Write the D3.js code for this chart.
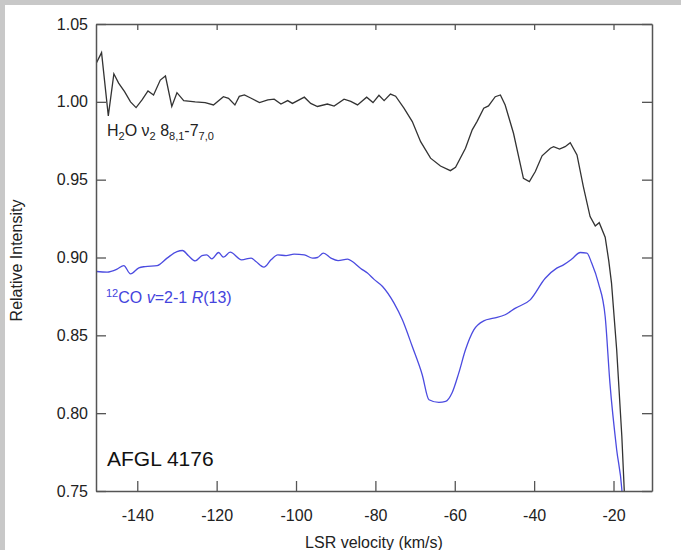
<!DOCTYPE html>
<html>
<head>
<meta charset="utf-8">
<script src="https://cdn.jsdelivr.net/npm/d3@7"></script>
<style>
  html, body { margin: 0; padding: 0; background: #c8c8c8; }
  svg { display: block; }
  text { font-family: "Liberation Sans", Arial, Helvetica, sans-serif; }
</style>
</head>
<body>
<svg id="chart" width="681" height="550"></svg>
<script>
// ---- data ----
const h2oVelocity = [-150.3,-149.0,-147.3,-145.9,-144.7,-143.2,-141.7,-140.3,-138.8,-137.3,-135.9,-134.2,-132.9,-131.3,-130.0,-128.3,-125.4,-122.9,-120.8,-118.3,-117.0,-115.4,-114.3,-113.0,-111.3,-109.2,-107.1,-105.5,-103.8,-102.1,-100.9,-97.9,-96.3,-94.6,-92.1,-90.4,-87.9,-86.2,-84.5,-82.2,-80.6,-79.1,-77.8,-76.2,-74.9,-72.8,-70.7,-68.6,-66.1,-63.6,-61.1,-59.8,-57.3,-55.6,-54.4,-52.7,-51.5,-49.8,-48.5,-47.3,-45.2,-42.7,-41.2,-39.7,-38.0,-35.9,-35.1,-33.6,-32.2,-30.9,-29.2,-27.6,-25.9,-24.6,-23.6,-22.1,-21.2,-20.5,-19.2,-17.9,-17.3,-17.0];
const h2oIntensity = [1.025,1.0316,0.991,1.018,1.012,1.0065,1.000,0.9963,1.0012,1.007,1.0044,1.014,1.0166,0.997,1.0059,1.0008,1.000,0.9995,0.998,1.0033,1.0023,0.998,1.0035,1.0044,1.0023,0.9995,1.0012,1.0017,0.9986,1.0008,0.999,1.003,0.999,0.997,0.9986,0.9973,1.0017,1.0003,0.998,1.003,0.9995,1.0042,1.0008,1.005,1.0036,0.9959,0.9873,0.9744,0.9638,0.9588,0.9558,0.958,0.9702,0.982,0.9873,0.9959,0.9974,1.0033,1.0044,0.998,0.9798,0.9509,0.9488,0.9552,0.9653,0.9702,0.9712,0.9696,0.9712,0.9738,0.9659,0.9455,0.9263,0.9203,0.9224,0.913,0.898,0.8835,0.8407,0.785,0.751,0.735];

const coVelocity = [-150.3,-147.6,-145.1,-143.4,-141.7,-139.6,-138.0,-135.0,-132.5,-130.0,-128.6,-127.1,-125.4,-123.7,-122.5,-121.2,-119.5,-118.3,-116.6,-113.7,-111.3,-110.1,-108.1,-106.3,-104.6,-102.5,-100.5,-97.9,-95.8,-94.6,-93.1,-91.2,-89.4,-87.0,-85.8,-83.7,-82.0,-80.4,-78.2,-75.3,-73.2,-70.7,-68.2,-66.5,-64.0,-62.3,-60.7,-59.0,-57.3,-55.2,-52.7,-50.2,-47.3,-44.7,-41.0,-37.2,-34.3,-32.6,-30.5,-28.4,-26.7,-25.5,-23.8,-22.1,-20.9,-19.2,-17.9,-17.6];
const coIntensity = [0.891,0.8906,0.8925,0.8948,0.8895,0.8934,0.8942,0.8948,0.8996,0.9038,0.9045,0.9011,0.8978,0.9012,0.9017,0.8991,0.9032,0.9002,0.9034,0.8985,0.8996,0.8974,0.8938,0.8985,0.9017,0.9012,0.9022,0.9017,0.8996,0.9000,0.9028,0.8996,0.898,0.899,0.8974,0.893,0.8900,0.8861,0.8814,0.8707,0.860,0.8428,0.8247,0.8086,0.8069,0.8075,0.8129,0.8257,0.8407,0.8535,0.8593,0.861,0.8632,0.8675,0.8728,0.8867,0.8932,0.8953,0.899,0.9032,0.9028,0.8964,0.8835,0.8621,0.8193,0.7765,0.751,0.74];

const xTicks = [-140,-120,-100,-80,-60,-40,-20];
const yTicks = [0.75,0.80,0.85,0.90,0.95,1.00,1.05];
const xDomain = [-150.4, -10.3];
const yDomain = [0.75, 1.05];

// ---- layout ----
const svg = d3.select("#chart");
const W = 681, H = 550;
const plot = {left: 96, right: 652, top: 24, bottom: 491};

svg.append("rect").attr("x", 5).attr("y", 5).attr("width", W - 5).attr("height", H - 5).attr("fill", "#ffffff");

const x = d3.scaleLinear().domain(xDomain).range([plot.left, plot.right]);
const y = d3.scaleLinear().domain(yDomain).range([plot.bottom, plot.top]);

const axisColor = "#555";
const tickLen = 10;

svg.append("defs").append("clipPath").attr("id", "clip")
  .append("rect").attr("x", plot.left).attr("y", plot.top)
  .attr("width", plot.right - plot.left).attr("height", plot.bottom - plot.top);

// lines
const h2o = h2oVelocity.map((v, i) => [v, h2oIntensity[i]]);
const co = coVelocity.map((v, i) => [v, coIntensity[i]]);

const lineLin = d3.line().x(d => x(d[0])).y(d => y(d[1])).curve(d3.curveLinear);
const lineSmooth = d3.line().x(d => x(d[0])).y(d => y(d[1])).curve(d3.curveMonotoneX);

const g = svg.append("g").attr("clip-path", "url(#clip)");
g.append("path").datum(co).attr("d", lineSmooth)
  .attr("fill", "none").attr("stroke", "#4b4be0").attr("stroke-width", 1.3);
g.append("path").datum(h2o).attr("d", lineLin)
  .attr("fill", "none").attr("stroke", "#333").attr("stroke-width", 1.3);

// axes
function styleAxis(sel) {
  sel.selectAll("path").attr("stroke", axisColor).attr("stroke-width", 1.5);
  sel.selectAll("line").attr("stroke", axisColor).attr("stroke-width", 1.3);
  sel.selectAll("text").attr("fill", "#222").attr("font-size", 16)
    .attr("font-family", "'Liberation Sans', Arial, sans-serif");
}

svg.append("g").attr("transform", `translate(0,${plot.bottom})`)
  .call(d3.axisBottom(x).tickValues(xTicks).tickSizeInner(-tickLen).tickSizeOuter(0).tickPadding(19).tickFormat(d => String(d)))
  .call(styleAxis);
svg.append("g").attr("transform", `translate(0,${plot.top})`)
  .call(d3.axisTop(x).tickValues(xTicks).tickSizeInner(-6).tickSizeOuter(0).tickFormat(""))
  .call(styleAxis);
svg.append("g").attr("transform", `translate(${plot.left},0)`)
  .call(d3.axisLeft(y).tickValues(yTicks).tickSizeInner(-tickLen).tickSizeOuter(0).tickPadding(8).tickFormat(d3.format(".2f")))
  .call(styleAxis);
svg.append("g").attr("transform", `translate(${plot.right},0)`)
  .call(d3.axisRight(y).tickValues(yTicks).tickSizeInner(-tickLen).tickSizeOuter(0).tickFormat(""))
  .call(styleAxis);

// axis titles
svg.append("text").attr("x", (plot.left + plot.right) / 2).attr("y", 548)
  .attr("text-anchor", "middle").attr("font-size", 16).attr("fill", "#222")
  .text("LSR velocity (km/s)");
svg.append("text").attr("transform", `translate(22,${(plot.top + plot.bottom) / 2 + 3}) rotate(-90)`)
  .attr("text-anchor", "middle").attr("font-size", 16).attr("fill", "#222")
  .text("Relative Intensity");

// annotations
const t1 = svg.append("text").attr("x", 107).attr("y", 136).attr("font-size", 16).attr("fill", "#222");
t1.append("tspan").text("H");
t1.append("tspan").attr("font-size", 11).attr("dy", 4).text("2");
t1.append("tspan").attr("dy", -4).text("O ν");
t1.append("tspan").attr("font-size", 11).attr("dy", 4).text("2");
t1.append("tspan").attr("dy", -4).text(" 8");
t1.append("tspan").attr("font-size", 11).attr("dy", 4).text("8,1");
t1.append("tspan").attr("dy", -4).text("-7");
t1.append("tspan").attr("font-size", 11).attr("dy", 4).text("7,0");

const t2 = svg.append("text").attr("x", 106).attr("y", 303).attr("font-size", 16).attr("fill", "#4444dd");
t2.append("tspan").attr("font-size", 11).attr("dy", -6).text("12");
t2.append("tspan").attr("dy", 6).text("CO ");
t2.append("tspan").attr("font-style", "italic").text("v");
t2.append("tspan").text("=2-1 ");
t2.append("tspan").attr("font-style", "italic").text("R");
t2.append("tspan").text("(13)");

svg.append("text").attr("x", 107).attr("y", 466).attr("font-size", 21).attr("fill", "#111")
  .text("AFGL 4176");
</script>
</body>
</html>
